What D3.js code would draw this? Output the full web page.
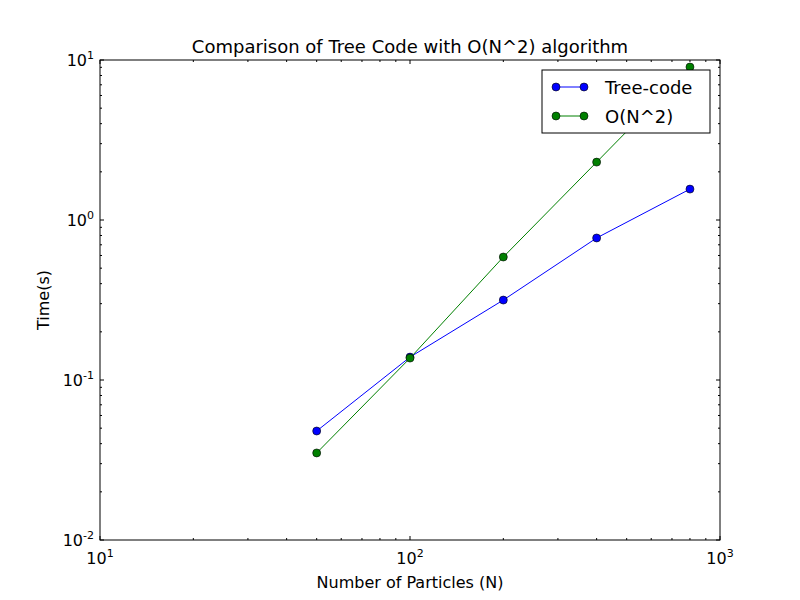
<!DOCTYPE html>
<html><head><meta charset="utf-8">
<script src="https://cdn.jsdelivr.net/npm/d3@7"></script>
<style>body{margin:0;background:#fff}text{font-family:"DejaVu Sans",sans-serif}</style>
</head><body><svg id="c" width="800" height="600"></svg>
<script>
// values
var particles = [50, 100, 200, 400, 800];
var treeTimes = [0.048, 0.139, 0.316, 0.772, 1.56];
var n2Times = [0.035, 0.137, 0.587, 2.30, 9.04];
var seriesNames = ["Tree-code", "O(N^2)"];
var seriesColors = ["#0000ff", "#008000"];
var xDecades = [1, 2, 3];
var yDecades = [-2, -1, 0, 1];

var svg = d3.select("#c");
var L = 100, R = 720, T = 60, B = 540;
var x = d3.scaleLog().domain([10, 1000]).range([L, R]);
var y = d3.scaleLog().domain([0.01, 10]).range([B, T]);

// minor + major ticks, inward, on all sides
function minors(dom) {
  var out = [];
  for (var e = Math.log10(dom[0]); e < Math.log10(dom[1]); e++)
    for (var k = 2; k < 10; k++) out.push(k * Math.pow(10, e));
  return out;
}
var g = svg.append("g").attr("stroke", "#000").attr("stroke-width", 1);
minors(x.domain()).forEach(function (v) {
  g.append("line").attr("x1", x(v)).attr("x2", x(v)).attr("y1", B).attr("y2", B - 2);
  g.append("line").attr("x1", x(v)).attr("x2", x(v)).attr("y1", T).attr("y2", T + 2);
});
minors(y.domain()).forEach(function (v) {
  g.append("line").attr("y1", y(v)).attr("y2", y(v)).attr("x1", L).attr("x2", L + 2);
  g.append("line").attr("y1", y(v)).attr("y2", y(v)).attr("x1", R).attr("x2", R - 2);
});
xDecades.forEach(function (d) {
  var px = x(Math.pow(10, d));
  g.append("line").attr("x1", px).attr("x2", px).attr("y1", B).attr("y2", B - 4);
  g.append("line").attr("x1", px).attr("x2", px).attr("y1", T).attr("y2", T + 4);
  var t = svg.append("text").attr("x", px).attr("y", B + 24).attr("text-anchor", "middle").attr("font-size", 16);
  t.append("tspan").text("10");
  t.append("tspan").attr("dy", -7).attr("font-size", 11).text(d);
});
yDecades.forEach(function (d) {
  var py = y(Math.pow(10, d));
  g.append("line").attr("y1", py).attr("y2", py).attr("x1", L).attr("x2", L + 4);
  g.append("line").attr("y1", py).attr("y2", py).attr("x1", R).attr("x2", R - 4);
  var t = svg.append("text").attr("x", L - 6).attr("y", py + 6).attr("text-anchor", "end").attr("font-size", 16);
  t.append("tspan").text("10");
  t.append("tspan").attr("dy", -7).attr("font-size", 11).text(d);
});

var series = [treeTimes, n2Times];
var line = d3.line().x(function (d, i) { return x(particles[i]); }).y(function (d) { return y(d); });
var plot = svg.append("g");
series.forEach(function (s, j) {
  plot.append("path").attr("d", line(s)).attr("fill", "none").attr("stroke", seriesColors[j]).attr("stroke-width", 1);
  plot.selectAll(null).data(s).enter().append("circle")
    .attr("cx", function (d, i) { return x(particles[i]); }).attr("cy", function (d) { return y(d); })
    .attr("r", 4).attr("fill", seriesColors[j]).attr("stroke", "#000").attr("stroke-width", 0.6);
});

svg.append("rect").attr("x", L).attr("y", T).attr("width", R - L).attr("height", B - T)
  .attr("fill", "none").attr("stroke", "#000");

// legend
var lg = svg.append("g");
lg.append("rect").attr("x", 542).attr("y", 70).attr("width", 168).attr("height", 63)
  .attr("fill", "#fff").attr("stroke", "#000");
seriesNames.forEach(function (n, j) {
  var yy = 87 + j * 29;
  lg.append("line").attr("x1", 556).attr("x2", 584).attr("y1", yy).attr("y2", yy).attr("stroke", seriesColors[j]);
  [556, 584].forEach(function (cx) {
    lg.append("circle").attr("cx", cx).attr("cy", yy).attr("r", 4).attr("fill", seriesColors[j]).attr("stroke", "#000").attr("stroke-width", 0.6);
  });
  lg.append("text").attr("x", 605).attr("y", yy + 7).attr("font-size", 18).text(n);
});

svg.append("text").attr("x", 410).attr("y", 53).attr("text-anchor", "middle").attr("font-size", 18)
  .text("Comparison of Tree Code with O(N^2) algorithm");
svg.append("text").attr("x", 410).attr("y", 588).attr("text-anchor", "middle").attr("font-size", 16)
  .text("Number of Particles (N)");
svg.append("text").attr("transform", "translate(49,300) rotate(-90)").attr("text-anchor", "middle").attr("font-size", 16)
  .text("Time(s)");
</script></body></html>
